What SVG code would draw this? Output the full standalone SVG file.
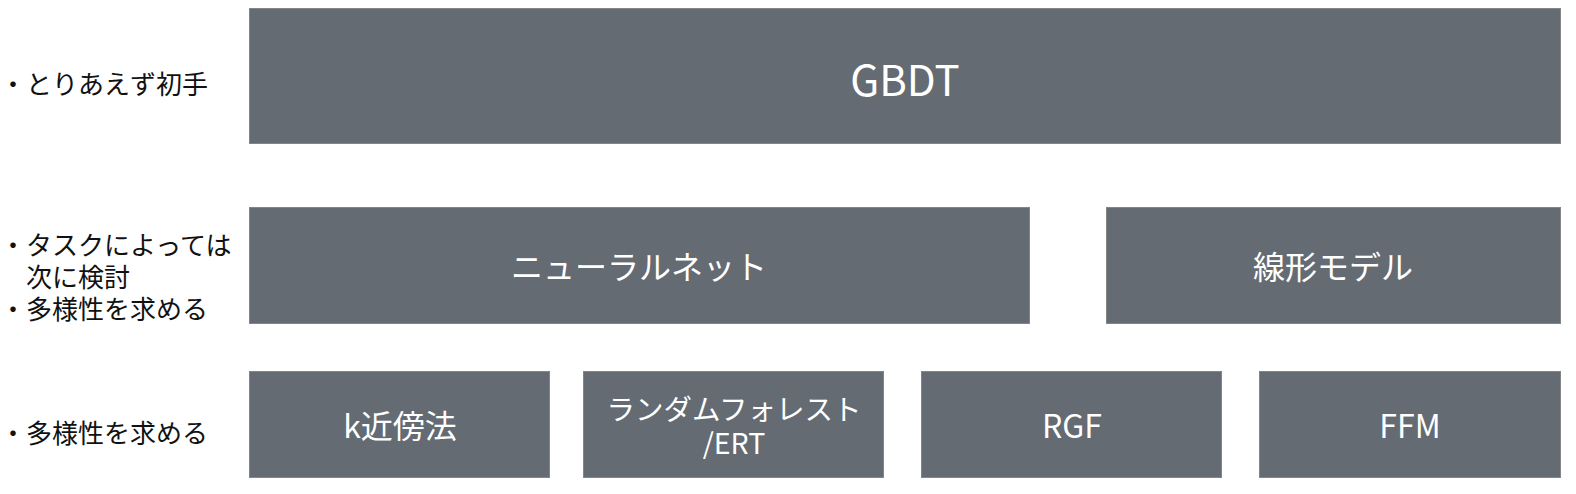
<svg xmlns="http://www.w3.org/2000/svg" width="1576" height="494" viewBox="0 0 1576 494">
<style>
.box{fill:#646b73;stroke:#858585;stroke-width:1}
.t{fill:#ffffff;font-family:"Noto Sans CJK JP","Noto Sans",sans-serif;text-anchor:middle;dominant-baseline:central}
.l{fill:#111111;font-family:"Noto Sans CJK JP","Noto Sans",sans-serif;font-size:26px;dominant-baseline:central}
</style>
<rect width="1576" height="494" fill="#ffffff"/>
<g id="labels">
<text class="l" x="0" y="82">・とりあえず初手</text>
<text class="l" x="0" y="243">・タスクによっては</text>
<text class="l" x="26" y="275">次に検討</text>
<text class="l" x="0" y="307">・多様性を求める</text>
<text class="l" x="0" y="431">・多様性を求める</text>
</g>
<g id="gbdt"><rect class="box" x="249.5" y="8.5" width="1311" height="135"/><text class="t" x="905" y="77" font-size="42">GBDT</text></g>
<g id="nn"><rect class="box" x="249.5" y="207.5" width="780" height="116"/><text class="t" x="639" y="265" font-size="32">ニューラルネット</text></g>
<g id="linear"><rect class="box" x="1106.5" y="207.5" width="454" height="116"/><text class="t" x="1333" y="265" font-size="32">線形モデル</text></g>
<g id="knn"><rect class="box" x="249.5" y="371.5" width="300" height="106"/><text class="t" x="400" y="424" font-size="32">k近傍法</text></g>
<g id="rf"><rect class="box" x="583.5" y="371.5" width="300" height="106"/><text class="t" x="734" y="407" font-size="28.5">ランダムフォレスト</text><text class="t" x="734" y="441" font-size="28.5">/ERT</text></g>
<g id="rgf"><rect class="box" x="921.5" y="371.5" width="300" height="106"/><text class="t" x="1072" y="424" font-size="32">RGF</text></g>
<g id="ffm"><rect class="box" x="1259.5" y="371.5" width="301" height="106"/><text class="t" x="1410" y="424" font-size="32">FFM</text></g>
<g id="connectors"></g>
</svg>
